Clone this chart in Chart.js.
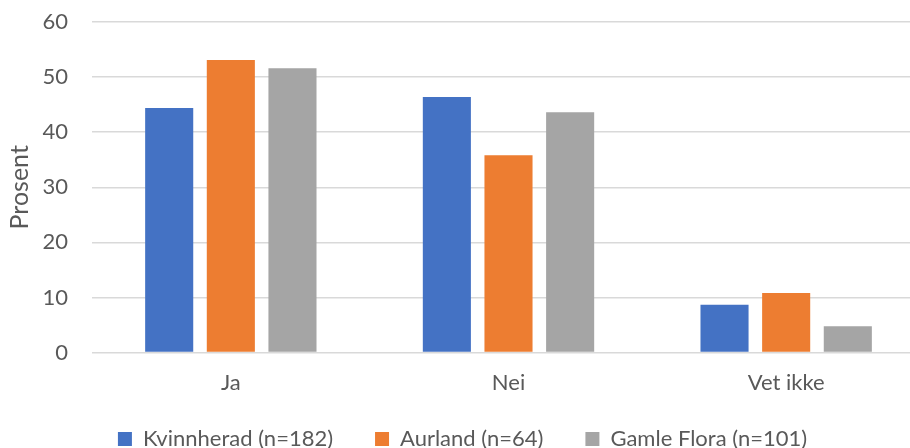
<!DOCTYPE html>
<html lang="no">
<head>
  <meta charset="UTF-8">
  <title>Prosent</title>
  <script src="https://cdn.jsdelivr.net/npm/chart.js"></script>
  <style>
    html, body { margin: 0; padding: 0; background: #fff; overflow: hidden; }
    #wrap { width: 925px; height: 448px; }
  </style>
</head>
<body>
  <div id="wrap"><canvas id="grafica"></canvas></div>
  <script>
    // Data lest av figuren
    var kategorier = ['Ja', 'Nei', 'Vet ikke'];
    var kvinnherad = [44.4, 46.4, 8.7];
    var aurland = [53.1, 35.8, 10.8];
    var gamleFlora = [51.6, 43.6, 4.8];
    var serieNavn = ['Kvinnherad (n=182)', 'Aurland (n=64)', 'Gamle Flora (n=101)'];
    var farger = ['#4472c4', '#ed7d31', '#a5a5a5'];

    Chart.defaults.font.family = "Lato, sans-serif";
    Chart.defaults.color = '#595959';

    var serier = [kvinnherad, aurland, gamleFlora];
    var datasets = serier.map(function (verdier, i) {
      return {
        label: serieNavn[i],
        data: verdier,
        backgroundColor: farger[i],
        categoryPercentage: 0.666,
        barPercentage: 0.78
      };
    });

    // legenden: stor avstand mellom elementene, men lav høyde
    var legendeFiks = {
      id: 'legendeFiks',
      afterInit: function (chart) {
        var leg = chart.legend;
        var fit = leg.fit;
        leg.fit = function () { fit.call(this); this.height = 43; };
      },
      afterLayout: function (chart) {
        var leg = chart.legend;
        leg.top = 386;
        leg.bottom = 448;
        leg.height = 62;
      }
    };

    new Chart(document.getElementById('grafica'), {
      type: 'bar',
      data: { labels: kategorier, datasets: datasets },
      plugins: [legendeFiks],
      options: {
        responsive: true,
        maintainAspectRatio: false,
        animation: false,
        layout: { padding: { top: 22, right: 0, bottom: 0, left: 0 } },
        plugins: {
          tooltip: { enabled: false },
          legend: {
            position: 'bottom',
            labels: {
              boxWidth: 14,
              boxHeight: 14,
              padding: 42,
              font: { size: 22 },
              color: '#595959'
            }
          }
        },
        scales: {
          x: {
            grid: { display: false },
            border: { display: false },
            ticks: { font: { size: 22 }, color: '#595959', padding: 9 }
          },
          y: {
            min: 0,
            max: 60,
            ticks: { stepSize: 10, font: { size: 22 }, color: '#595959', padding: 24 },
            grid: { color: '#d9d9d9', lineWidth: 1.5, drawTicks: false },
            border: { display: false },
            title: { display: true, text: 'Prosent', font: { size: 25 }, color: '#595959', padding: { top: 5, bottom: 0 } },
            afterFit: function (s) {
              s.width = 92;
              s.paddingTop = 0;
              s.paddingBottom = 0;
            }
          }
        }
      }
    });
  </script>
</body>
</html>
